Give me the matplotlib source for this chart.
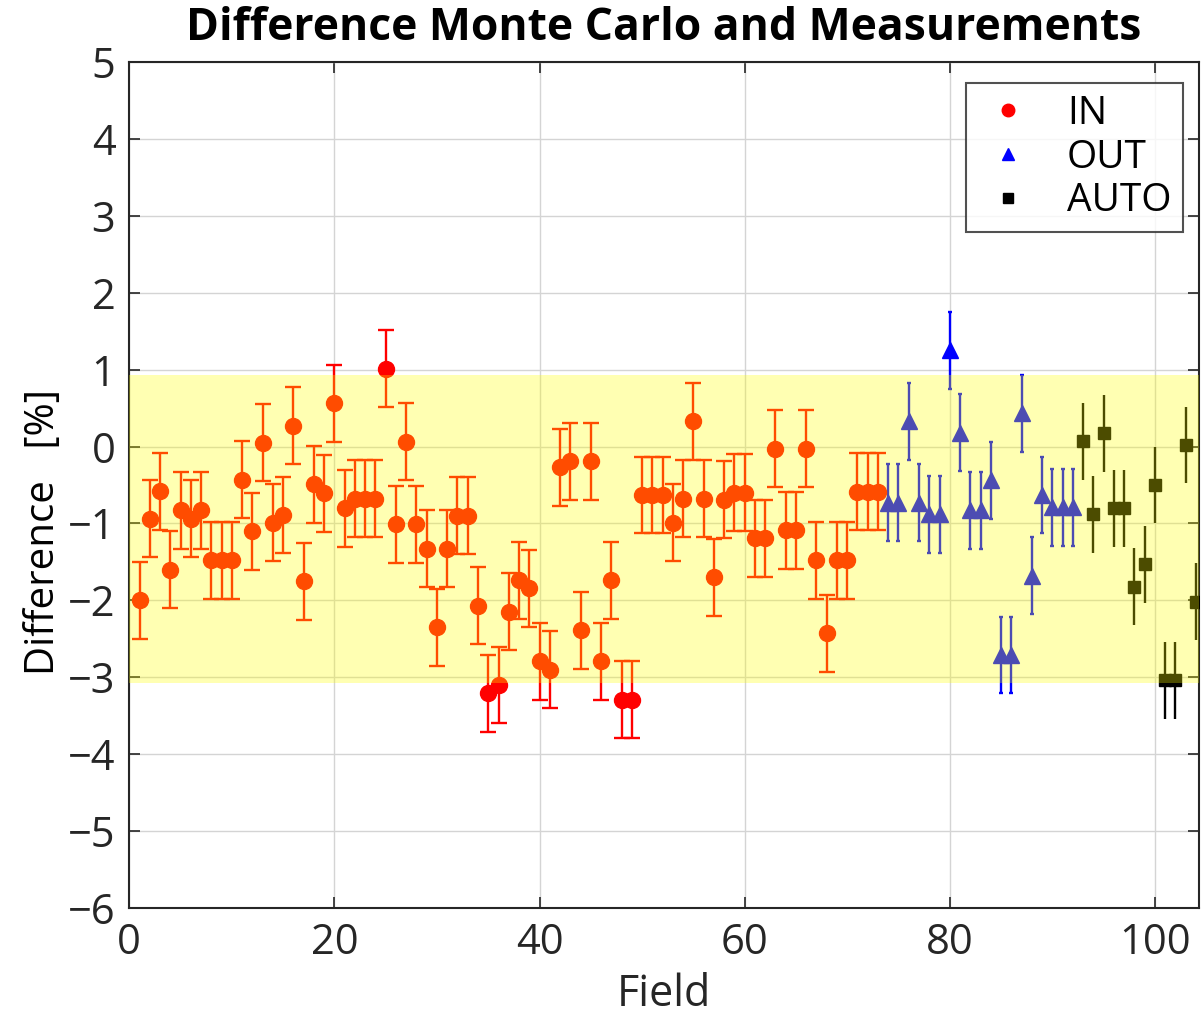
import numpy as np
import matplotlib
matplotlib.use('Agg')
import matplotlib.pyplot as plt
from matplotlib.lines import Line2D

plt.rcParams['font.family'] = ['Open Sans', 'DejaVu Sans']

# data
in_fields = list(range(1, 74))
in_vals = [-2.0, -0.94, -0.58, -1.6, -0.83, -0.94, -0.83, -1.48, -1.48, -1.48,
           -0.43, -1.1, 0.05, -0.99, -0.89, 0.27, -1.75, -0.49, -0.61, 0.56,
           -0.80, -0.68, -0.68, -0.68, 1.01, -1.01, 0.06, -1.01, -1.33, -2.35,
           -1.33, -0.9, -0.9, -2.07, -3.21, -3.1, -2.15, -1.74, -1.84, -2.79,
           -2.9, -0.27, -0.19, -2.39, -0.19, -2.79, -1.74, -3.29, -3.29, -0.63,
           -0.63, -0.63, -0.99, -0.68, 0.33, -0.68, -1.7, -0.69, -0.6, -0.6,
           -1.19, -1.19, -0.03, -1.09, -1.09, -0.03, -1.48, -2.43, -1.48, -1.48,
           -0.59, -0.59, -0.59]
out_fields = list(range(74, 93))
out_vals = [-0.73, -0.73, 0.33, -0.73, -0.88, -0.88, 1.25, 0.18, -0.83, -0.83,
            -0.44, -2.71, -2.71, 0.43, -1.68, -0.63, -0.79, -0.79, -0.79]
auto_fields = list(range(93, 105))
auto_vals = [0.07, -0.88, 0.17, -0.80, -0.80, -1.82, -1.53, -0.50, -3.04, -3.04,
             0.02, -2.02]
err = 0.5
band_low, band_high = -3.07, 0.93

fig = plt.figure(figsize=(12.01, 10.18), dpi=100)
ax = fig.add_axes([129.3/1201, 1 - 908/1018, (1199 - 129.3)/1201, (908 - 62)/1018])

ax.errorbar(in_fields, in_vals, yerr=err, fmt='o', color='red', ms=11.5,
            elinewidth=1.7, capsize=5.5, capthick=1.7, zorder=3)
ax.errorbar(out_fields, out_vals, yerr=err, fmt='^', color='blue', ms=12,
            elinewidth=1.7, capsize=1.5, capthick=1.7, zorder=3)
ax.errorbar(auto_fields, auto_vals, yerr=err, fmt='s', color='black', ms=8.5,
            elinewidth=1.7, capsize=0, zorder=3)

# transparent band drawn over the points, like the original
ax.axhspan(band_low, band_high, color='yellow', alpha=0.3, lw=0, zorder=5)

ax.set_xlim(0, 104.3)
ax.set_ylim(-6, 5)
ax.set_xticks([0, 20, 40, 60, 80, 100])
ax.set_yticks(np.arange(-6, 6, 1))
ax.grid(True, color='#d4d4d4', lw=1)
ax.set_axisbelow(True)
ax.tick_params(direction='in', top=True, right=True, length=8, width=1.2,
               labelsize=30, colors='#262626', pad=10)
for s in ax.spines.values():
    s.set_color('#262626')
    s.set_linewidth(1.5)

ax.set_xlabel('Field', fontsize=31, color='#262626', labelpad=6)
ax.set_ylabel('Difference   [%]', fontsize=29, color='black')
ax.yaxis.set_label_coords(-0.061, 0.444)
ax.set_title('Difference Monte Carlo and Measurements', fontsize=32,
             fontweight='bold', pad=16)

handles = [Line2D([], [], ls='none', marker='o', color='red', ms=9),
           Line2D([], [], ls='none', marker='^', color='blue', ms=9),
           Line2D([], [], ls='none', marker='s', color='black', ms=7)]
leg = ax.legend(handles, ['IN', 'OUT', 'AUTO'], loc='upper right',
                fontsize=28, frameon=True, fancybox=False, borderaxespad=0,
                handletextpad=0.7, handlelength=1.6, labelspacing=0.15, borderpad=0.3)
leg.set_bbox_to_anchor(((1183 - 129.3)/(1199 - 129.3), 1 - 21/846), transform=ax.transAxes)
leg.get_frame().set_edgecolor('#262626')
leg.get_frame().set_linewidth(1.5)
leg.set_zorder(10)

fig.savefig('out.png', dpi=100)
